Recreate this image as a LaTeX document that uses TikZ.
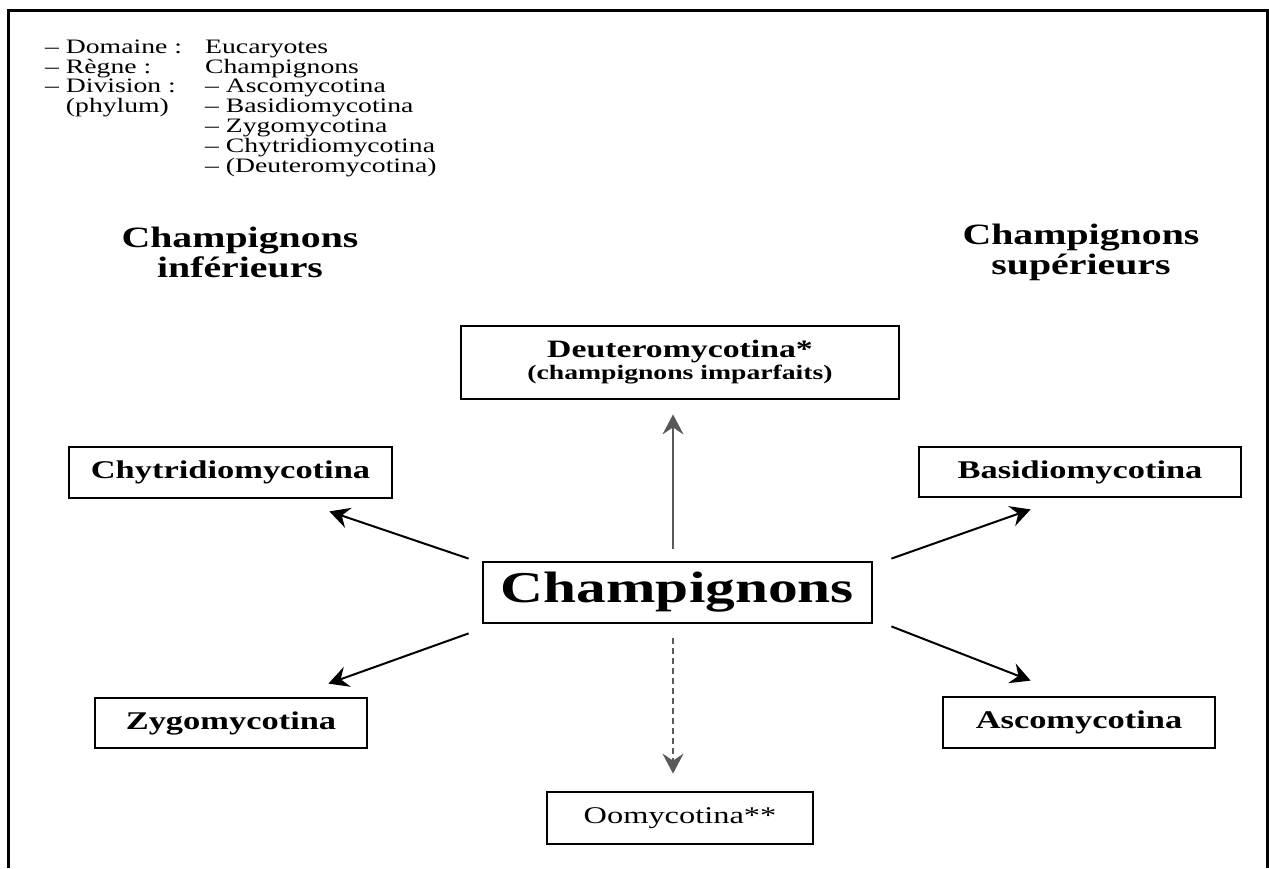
\documentclass[tikz,border=0pt]{standalone}
\usepackage{fontspec}
\setmainfont[FakeStretch=1.35]{Liberation Serif}
\usetikzlibrary{arrows.meta}

\tikzset{
    box/.style={draw, line width=2.8pt, inner sep=0pt, align=center,
        font=\bfseries\fontsize{25.5}{27}\selectfont},
    title/.style={align=center, inner sep=0pt,
        font=\bfseries\fontsize{29.5}{30}\selectfont},
    arr/.style={-{Stealth[length=20pt,width=21pt,inset=7pt]}, line width=2pt},
}

\begin{document}
\begin{tikzpicture}[x=1pt, y=-1pt]
        % Page
        \useasboundingbox (0,0) rectangle (1269,868);
        \draw[line width=3pt] (8,868) -- (8,10) -- (1267,10) -- (1267,868);

        % Classification
        \node (legend) at (45,53) [anchor=base west, inner sep=0pt,
            font=\fontsize{20.5}{19.5}\selectfont]
            {\begin{tabular}[t]{@{}p{160pt}@{}l@{}}
             -- Domaine : & Eucaryotes\\
             -- Règne : & Champignons\\
             -- Division : & -- Ascomycotina\\
             \phantom{-- }(phylum) & -- Basidiomycotina\\
             & -- Zygomycotina\\
             & -- Chytridiomycotina\\
             & -- (Deuteromycotina)
             \end{tabular}};

        % Groups
        \node (inf) at (240,252) [title] {Champignons\\inférieurs};
        \node (sup) at (1081,252) [title] {Champignons\\supérieurs};

        % Boxes
        \node (champ) at (677.5,592.5) [box, minimum width=389pt, minimum height=61pt,
            font=\bfseries\fontsize{44}{44}\selectfont] {Champignons};
        \node (deut) at (680,362.5) [box, minimum width=438pt, minimum height=73pt,
            font=\bfseries\fontsize{25}{22}\selectfont]
            {Deuteromycotina*\\{\fontsize{20.5}{22}\selectfont (champignons imparfaits)}};
        \node (chy) at (230.5,472.5) [box, minimum width=323pt, minimum height=51pt] {Chytridiomycotina};
        \node (bas) at (1080,472) [box, minimum width=322pt, minimum height=50pt] {Basidiomycotina};
        \node (zyg) at (231,723) [box, minimum width=272pt, minimum height=50pt] {Zygomycotina};
        \node (asc) at (1079,722.5) [box, minimum width=272pt, minimum height=51pt] {Ascomycotina};
        \node (oom) at (680,818) [box, minimum width=266pt, minimum height=52pt,
            font=\fontsize{24}{26}\selectfont] {Oomycotina**};

        % Arrows
        \draw[arr, gray!70!black, line width=1.5pt] ([xshift=-4.5pt,yshift=12pt]champ.north) -- ([xshift=-7pt,yshift=-14pt]deut.south);
        \draw[arr] ([xshift=-13pt,yshift=2pt]champ.north west) -- ([xshift=-64pt,yshift=-12pt]chy.south east);
        \draw[arr] ([xshift=18pt,yshift=2pt]champ.north east) -- ([xshift=113pt,yshift=-11pt]bas.south west);
        \draw[arr] ([xshift=-13pt,yshift=-9pt]champ.south west) -- ([xshift=-40pt,yshift=13pt]zyg.north east);
        \draw[arr] ([xshift=18pt,yshift=-2pt]champ.south east) -- ([xshift=89pt,yshift=15pt]asc.north west);
        \draw[arr, gray!70!black, line width=1.5pt, dash pattern=on 6pt off 4pt] ([xshift=-4.5pt,yshift=-14pt]champ.south) -- ([xshift=-7pt,yshift=17pt]oom.north);
    \end{tikzpicture}
\end{document}
